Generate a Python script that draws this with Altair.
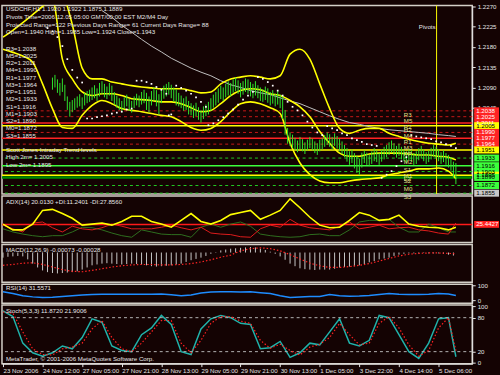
import json
import altair as alt
import pandas as pd

# ---------------- data ----------------
tick_bars = [0, 16, 32, 48, 64, 80, 96, 112, 128, 144, 160, 176]
tick_labels = ["23 Nov 2006", "24 Nov 12:00", "27 Nov 05:00", "27 Nov 21:00", "28 Nov 13:00",
               "29 Nov 05:00", "29 Nov 21:00", "30 Nov 13:00", "1 Dec 05:00", "3 Dec 22:00",
               "4 Dec 14:00", "5 Dec 06:00"]

# the first 20 bars lie above the top of the fixed price scale (hidden in the picture)
bar_high = [1.2318,1.2322,1.2325,1.2320,1.2316,1.2312,1.2308,1.2304,1.2300,1.2306,1.2302,1.2298,1.2300,1.2296,1.2294,1.2298,1.2295,1.2292,1.2294,1.2290,
            1.2112,1.2118,1.2108,1.2100,1.2110,1.2096,
            1.2070,1.2058,1.2062,
            1.2066,1.2070,1.2075,1.2068,1.2078,1.2082,
            1.2085,1.2090,1.2095,1.2088,1.2100,1.2104,1.2098,1.2092,1.2100,1.2094,1.2080,
            1.2072,1.2066,1.2060,1.2068,1.2074,1.2065,1.2060,1.2070,1.2076,1.2072,1.2080,
            1.2085,1.2078,1.2070,1.2082,1.2090,1.2084,1.2075,1.2088,1.2094,
            1.2098,1.2102,1.2096,1.2090,1.2086,
            1.2078,1.2072,1.2066,1.2070,1.2060,1.2055,1.2050,1.2056,1.2046,1.2040,1.2048,1.2052,
            1.2058,1.2066,1.2074,1.2080,1.2088,1.2094,1.2090,1.2098,
            1.2104,1.2100,1.2108,1.2112,1.2106,1.2100,1.2104,1.2110,1.2108,1.2102,1.2098,1.2104,
            1.2095,1.2090,1.2086,1.2092,1.2088,1.2080,1.2084,1.2076,1.2082,1.2074,
            1.2070,1.2040,1.2000,1.1990,
            1.1985,1.1978,1.1972,1.1980,1.1975,1.1968,1.1974,1.1980,1.1976,1.1970,1.1966,1.1974,1.1978,
            1.1984,1.1990,1.1986,1.1980,1.1988,1.1982,1.1976,1.1970,
            1.1962,1.1955,1.1948,1.1952,1.1944,1.1938,1.1932,1.1945,
            1.1950,1.1945,1.1940,1.1948,1.1955,1.1950,1.1944,1.1952,1.1958,1.1962,
            1.1968,1.1972,1.1966,1.1960,1.1965,1.1958,1.1952,
            1.1948,1.1954,1.1950,1.1944,1.1948,1.1955,1.1960,1.1952,1.1946,1.1950,1.1956,1.1962,1.1958,1.1952,1.1946,1.1950,1.1944,1.1940,
            1.1935,1.1925,1.1922]
bar_low = [1.2296,1.2300,1.2304,1.2298,1.2294,1.2290,1.2286,1.2284,1.2280,1.2286,1.2282,1.2278,1.2280,1.2278,1.2276,1.2280,1.2278,1.2276,1.2278,1.2275,
           1.2085,1.2090,1.2078,1.2072,1.2080,1.2060,
           1.2040,1.2025,1.2035,
           1.2040,1.2045,1.2048,1.2042,1.2050,1.2055,
           1.2058,1.2062,1.2066,1.2060,1.2070,1.2075,1.2068,1.2064,1.2072,1.2060,1.2052,
           1.2045,1.2040,1.2036,1.2042,1.2048,1.2038,1.2034,1.2044,1.2050,1.2046,1.2052,
           1.2055,1.2040,1.2035,1.2050,1.2060,1.2048,1.2030,1.2055,1.2065,
           1.2070,1.2074,1.2066,1.2058,1.2050,
           1.2048,1.2044,1.2038,1.2040,1.2030,1.2028,1.2022,1.2026,1.2018,1.2012,1.2020,1.2026,
           1.2030,1.2038,1.2045,1.2050,1.2056,1.2064,1.2060,1.2068,
           1.2072,1.2070,1.2078,1.2082,1.2076,1.2068,1.2074,1.2080,1.2076,1.2070,1.2066,1.2072,
           1.2066,1.2060,1.2058,1.2062,1.2056,1.2050,1.2054,1.2048,1.2052,1.2044,
           1.2020,1.1985,1.1965,1.1960,
           1.1955,1.1950,1.1946,1.1952,1.1948,1.1942,1.1950,1.1955,1.1950,1.1944,1.1940,1.1948,1.1952,
           1.1958,1.1962,1.1958,1.1952,1.1960,1.1954,1.1948,1.1942,
           1.1935,1.1925,1.1918,1.1922,1.1910,1.1900,1.1895,1.1912,
           1.1922,1.1918,1.1915,1.1920,1.1926,1.1924,1.1918,1.1925,1.1930,1.1935,
           1.1940,1.1945,1.1940,1.1934,1.1938,1.1930,1.1926,
           1.1922,1.1928,1.1925,1.1918,1.1920,1.1928,1.1932,1.1926,1.1920,1.1924,1.1930,1.1936,1.1932,1.1926,1.1920,1.1924,1.1918,1.1912,
           1.1905,1.1890,1.1875]

grid_bars = list(range(0, 181, 4)) + [183]
bb_upper = [1.2296,1.2300,1.2310,1.2315,1.2320,1.2318,1.2300,1.2230,1.2133,1.2109,
            1.2109,1.2102,1.2098,1.2094,1.2091,1.2089,1.2087,1.2087,1.2087,1.2083,
            1.2078,1.2080,1.2098,1.2109,1.2113,1.2116,1.2113,1.2109,1.2116,1.2164,
            1.2175,1.2153,1.2098,1.2043,1.1999,1.1988,1.1995,1.1999,1.1999,1.1988,
            1.1981,1.1975,1.1970,1.1966,1.1964,1.1962,1.1966]
bb_middle = [1.2202,1.2217,1.2234,1.2252,1.2270,1.2285,1.2153,1.2109,1.2080,1.2072,
             1.2076,1.2076,1.2072,1.2065,1.2063,1.2061,1.2058,1.2058,1.2054,1.2045,
             1.2036,1.2039,1.2054,1.2072,1.2083,1.2087,1.2085,1.2076,1.2072,1.2061,
             1.2047,1.2025,1.1992,1.1966,1.1944,1.1937,1.1937,1.1942,1.1944,1.1944,
             1.1944,1.1942,1.1940,1.1940,1.1937,1.1935,1.1929]
bb_lower = [1.2175,1.2168,1.2160,1.2146,1.2098,1.2043,1.2001,1.1999,1.2028,1.2050,
            1.2061,1.2054,1.2043,1.2039,1.2036,1.2032,1.2028,1.2025,1.2014,1.2001,
            1.1995,1.1999,1.2014,1.2036,1.2054,1.2058,1.2054,1.2045,1.2032,1.1966,
            1.1922,1.1896,1.1882,1.1878,1.1878,1.1882,1.1885,1.1887,1.1889,1.1896,
            1.1900,1.1904,1.1909,1.1909,1.1911,1.1904,1.1887]

ma_bars = list(range(40, 181, 4)) + [183]
ma_values = [1.2261,1.2246,1.2228,1.2213,1.2197,1.2182,1.2169,1.2155,1.2144,1.2133,
             1.2124,1.2116,1.2105,1.2096,1.2090,1.2083,1.2078,1.2074,1.2067,1.2060,
             1.2054,1.2045,1.2036,1.2027,1.2019,1.2012,1.2008,1.2003,1.1999,1.1996,
             1.1994,1.1992,1.1990,1.1988,1.1985,1.1983,1.1981]

sar_bars = (list(range(18, 33, 2)) + list(range(34, 53, 2)) + list(range(54, 67, 2)) + [67, 68]
            + list(range(70, 83, 2)) + list(range(83, 102, 2)) + list(range(103, 130, 2))
            + list(range(131, 152, 2)) + list(range(153, 164, 2)) + list(range(165, 184, 2)))
sar_values = [1.2222,1.2215,1.2202,1.2182,1.2153,1.2129,1.2112,1.2101,
              1.2021,1.2021,1.2024,1.2026,1.2028,1.2032,1.2034,1.2036,1.2041,1.2043,
              1.2105,1.2105,1.2102,1.2098,1.2091,1.2085,1.2076,
              1.2028,1.2030,
              1.2094,1.2089,1.2083,1.2076,1.2068,1.2058,1.2047,
              1.2006,1.2010,1.2017,1.2024,1.2032,1.2041,1.2052,1.2063,1.2072,1.2080,
              1.2113,1.2109,1.2102,1.2094,1.2083,1.2072,1.2058,1.2047,1.2039,1.2028,1.2014,1.2001,1.1990,1.1984,
              1.2004,1.1999,1.1995,1.1988,1.1984,1.1977,1.1973,1.1969,1.1964,1.1962,1.1960,
              1.1889,1.1896,1.1904,1.1915,1.1926,1.1935,
              1.1984,1.1981,1.1979,1.1977,1.1975,1.1970,1.1968,1.1964,1.1960,1.1955]

level_names = ["R3", "M5", "R2", "H2", "M4", "R1", "M3", "PP", "M2", "S1", "M1", "L2", "S2", "M0", "S3"]
level_prices = [1.2038, 1.2025, 1.2011, 1.2005, 1.1990, 1.1977, 1.1964, 1.1951, 1.1933, 1.1916,
                1.1903, 1.1895, 1.1890, 1.1872, 1.1855]
pivot_bar = 175.2

header_lines = ["USDCHF,H1  1.1920 1.1922 1.1875 1.1889",
                "Pivots Time=2006.12.05 05:00 GMT/00:00 EST M2/M4 Day",
                "Projected Range=122 Previous Days Range= 61 Current Days Range= 88",
                "Open=1.1940 High=1.1985 Low=1.1924 Close=1.1943"]
list_names = ["R3", "M5", "R2", "M4", "R1", "M3", "PP", "M2", "S1", "M1", "S2", "M0", "S3"]
trend_lines = ["Scott Jones Intraday Trend levels", "High 2m= 1.2005", "Low 2m= 1.1895"]

adx_main = [26,15,15,26,52,54,46,37,24,26, 28,24,31,41,41,31,26,20,33,46,
            31,26,33,44,48,52,35,43,52,74, 57,39,24,19,20,33,48,43,33,35,
            43,26,22,20,19,15,20]
adx_plus = [17,11,7,4,2,4,4,11,20,19, 15,9,4,1,15,11,7,6,6,1,
            20,26,20,26,30,22,7,4,2,1, 2,6,7,4,4,15,30,33,33,35,
            20,11,11,26,19,11,11]
adx_minus = [24,17,11,28,30,19,11,22,17,15, 19,26,22,17,17,17,20,24,19,15,
             20,9,7,6,2,1,17,24,20,35, 24,19,17,15,22,30,17,20,24,17,
             19,20,15,13,9,7,28]
adx_level = 25.4427

hist_bars = list(range(0, 183, 2))
macd_hist = [-12,-10,-9,-8,-9,-16,-26,-35,-42,-46,-48,-49,-48,-47,-46,-44,-40,-35,-30,-28,
             -26,-25,-26,-27,-28,-27,-26,-27,-28,-30,-32,-33,-32,-31,-30,-28,-26,-22,-18,-15,
             -12,-8,-3,1,5,7,9,10,11,12,13,12,9,6,2,-3,-9,-17,-26,-32,
             -37,-39,-40,-41,-40,-40,-40,-38,-35,-34,-33,-32,-30,-27,-23,-20,-16,-14,-12,-8,
             -5,-3,-2,-2,-2,-1,-2,-2,-2,-3,-5,-7]
macd_signal = [-30,-28,-25,-24,-28,-34,-40,-44,-45,-42, -38,-34,-31,-29,-28,-28,-29,-29,-28,-26,
               -22,-17,-11,-6,4,9,11,9,4,-5, -15,-25,-31,-35,-35,-33,-30,-26,-20,-14,
               -8,-4,-2,-1,-1,-2,-3]

rsi_values = [56,45,30,22,18,20,25,30,35,38, 40,40,39,40,40,40,41,36,30,35,
              48,55,57,56,55,56,50,44,30,18, 22,24,25,38,30,27,28,32,38,45,
              40,38,38,40,44,42,31]

stoch_main = [92,82,35,18,12,18,30,25,45,78, 72,30,22,20,50,62,84,68,20,15,
              60,78,84,80,70,68,25,27,38,10, 18,35,32,55,78,35,30,40,84,80,
              50,20,8,35,78,80,11]
stoch_signal = [90,88,55,25,15,14,25,28,35,60, 75,45,25,20,35,55,75,75,35,18,
                40,70,82,82,74,70,40,26,33,22, 14,28,33,45,70,50,32,35,70,82,
                62,32,12,22,62,80,22]

# ---------------- styles ----------------
BG = "#140303"
FG = "#e6e6e6"
FONT = "Liberation Sans"
FS = 6.2
W = 474
XD = [-0.4, 189.6]
RED, YEL, GRN = "#ff2424", "#ffff00", "#3cff3c"
level_line_colors = ["#c81818", "#c81818", RED, YEL, "#c81818", RED, "#c81818", YEL,
                     "#22c822", GRN, "#22c822", YEL, "#008a00", "#22c822", "#22c822"]
level_dashed = [True, True, False, False, True, False, True, False, True, False, True, False, False, True, True]
level_widths = [1, 1, 1.5, 1.5, 1, 1.5, 1, 1.5, 1, 1.5, 1, 1.5, 2.5, 1, 1]
box_colors = [RED, RED, RED, YEL, RED, RED, RED, YEL, GRN, GRN, GRN, YEL, GRN, GRN, "#c8c8c8"]
box_text = ["#ffffff"] * 3 + ["#000000"] + ["#ffffff"] * 3 + ["#000000"] * 8


def xs():
    return alt.X("bar:Q", scale=alt.Scale(domain=XD, nice=False, zero=False), axis=None)


def right_axis(values, fmt=None):
    kw = dict(orient="right", values=values, title=None, grid=False, labelColor=FG, tickColor=FG,
              domainColor=FG, labelFont=FONT, labelFontSize=FS, tickSize=3, labelPadding=2)
    if fmt:
        kw["format"] = fmt
    return alt.Axis(**kw)


def note(text, x, y, color=FG, align="left"):
    return alt.Chart(pd.DataFrame({"t": [text]})).mark_text(
        font=FONT, fontSize=FS, color=color, align=align, baseline="middle").encode(
        text="t:N", x=alt.value(x), y=alt.value(y))


# ---------------- main price panel ----------------
MAIN_H = 190
PY = alt.Scale(domain=[1.18531, 1.22722], nice=False, zero=False)

lv = pd.DataFrame({"name": level_names, "price": level_prices, "lc": level_line_colors,
                   "dashed": level_dashed, "lw": level_widths, "bc": box_colors, "tc": box_text})
lv["blo"] = lv["price"] - 0.00078
lv["bhi"] = lv["price"] + 0.00078
lv["label"] = lv["price"].map(lambda v: f"{v:.4f}")

axis_main = right_axis([1.2045, 1.2090, 1.2135, 1.2180, 1.2225, 1.2270], fmt=".4f")

solid_lv = alt.Chart(lv).transform_filter("!datum.dashed").mark_rule().encode(
    y=alt.Y("price:Q", scale=PY, axis=axis_main),
    color=alt.Color("lc:N", scale=None), strokeWidth=alt.StrokeWidth("lw:Q", scale=None))
dash_lv = alt.Chart(lv).transform_filter("datum.dashed").mark_rule(strokeDash=[3, 3]).encode(
    y=alt.Y("price:Q", scale=PY, axis=None),
    color=alt.Color("lc:N", scale=None), strokeWidth=alt.StrokeWidth("lw:Q", scale=None))

pivot_line = alt.Chart(pd.DataFrame({"bar": [pivot_bar]})).mark_rule(color=YEL, strokeWidth=1).encode(x=xs())

ma_df = pd.DataFrame({"bar": ma_bars, "price": ma_values})
ma_line = alt.Chart(ma_df).mark_line(color="#c0c0c0", strokeWidth=1, clip=True).encode(
    x=xs(), y=alt.Y("price:Q", scale=PY, axis=None))

bb_df = pd.concat([
    pd.DataFrame({"bar": grid_bars, "price": bb_upper, "band": "upper"}),
    pd.DataFrame({"bar": grid_bars, "price": bb_middle, "band": "middle"}),
    pd.DataFrame({"bar": grid_bars, "price": bb_lower, "band": "lower"})])
bb_lines = alt.Chart(bb_df).mark_line(color=YEL, strokeWidth=1.6, clip=True, interpolate="monotone").encode(
    x=xs(), y=alt.Y("price:Q", scale=PY, axis=None), detail="band:N")

bars_df = pd.DataFrame({"bar": list(range(len(bar_high))), "hi": bar_high, "lo": bar_low})
price_bars = alt.Chart(bars_df).mark_rule(color="#2ee62e", strokeWidth=1, clip=True).encode(
    x=xs(), y=alt.Y("lo:Q", scale=PY, axis=None), y2="hi:Q")

sar_df = pd.DataFrame({"bar": sar_bars, "price": sar_values})
sar_pts = alt.Chart(sar_df).mark_square(color="#ffffff", size=3, opacity=1).encode(
    x=xs(), y=alt.Y("price:Q", scale=PY, axis=None))

piv_labels = alt.Chart(lv).mark_text(font=FONT, fontSize=FS, color="#e0e08c", align="left",
                                     baseline="top", dy=1).encode(
    x=alt.value(405), y=alt.Y("price:Q", scale=PY, axis=None), text="name:N")

pivots_txt = alt.Chart(pd.DataFrame({"bar": [pivot_bar], "price": [1.2225], "t": ["Pivots"]})).mark_text(
    font=FONT, fontSize=FS, color=FG, align="right", dx=-1).encode(
    x=xs(), y=alt.Y("price:Q", scale=PY, axis=None), text="t:N")

boxes = alt.Chart(lv).mark_rect().encode(
    x=alt.value(W + 2), x2=alt.value(W + 27),
    y=alt.Y("blo:Q", scale=PY, axis=None), y2="bhi:Q", color=alt.Color("bc:N", scale=None))
box_txt = alt.Chart(lv).mark_text(font=FONT, fontSize=FS, align="left", baseline="middle").encode(
    x=alt.value(W + 4), y=alt.Y("price:Q", scale=PY, axis=None), text="label:N",
    color=alt.Color("tc:N", scale=None))

head_df = pd.DataFrame({"k": list(range(len(header_lines))), "t": header_lines})
head_txt = alt.Chart(head_df).mark_text(font=FONT, fontSize=FS, color=FG, align="left", baseline="middle").encode(
    x=alt.value(4), y=alt.Y("k:Q", scale=alt.Scale(domain=[0, 3], range=[4, 27]), axis=None), text="t:N")

list_map = dict(zip(level_names, level_prices))
plist = [f"{n}={list_map[n]:.4f}" for n in list_names] + [""] + trend_lines
plist_df = pd.DataFrame({"k": list(range(len(plist))), "t": plist})
list_txt = alt.Chart(plist_df).mark_text(font=FONT, fontSize=FS, color=FG, align="left", baseline="middle").encode(
    x=alt.value(4), y=alt.Y("k:Q", scale=alt.Scale(domain=[0, 16], range=[43.5, 160.3]), axis=None), text="t:N")

main = alt.layer(solid_lv, dash_lv, pivot_line, ma_line, bb_lines, price_bars, sar_pts,
                 piv_labels, pivots_txt, boxes, box_txt, head_txt, list_txt).resolve_scale(
    y="independent").properties(width=W, height=MAIN_H)

# ---------------- ADX panel ----------------
AY = alt.Scale(domain=[-9.2, 79.4], nice=False, zero=False)
adx_df = pd.DataFrame({"bar": grid_bars, "adx": adx_main, "pdi": adx_plus, "mdi": adx_minus})
adx_axis_layer = alt.Chart(pd.DataFrame({"v": [adx_level]})).mark_rule(color="#ff1a1a", strokeWidth=1.5).encode(
    y=alt.Y("v:Q", scale=AY, axis=right_axis([0, 72])))
adx_p = alt.Chart(adx_df).mark_line(color="#2f6f1f", strokeWidth=1, clip=True).encode(
    x=xs(), y=alt.Y("pdi:Q", scale=AY, axis=None))
adx_m = alt.Chart(adx_df).mark_line(color="#e01c1c", strokeWidth=1, clip=True).encode(
    x=xs(), y=alt.Y("mdi:Q", scale=AY, axis=None))
adx_l = alt.Chart(adx_df).mark_line(color=YEL, strokeWidth=1.6, clip=True).encode(
    x=xs(), y=alt.Y("adx:Q", scale=AY, axis=None))
adx_box_df = pd.DataFrame({"v": [adx_level], "lo": [adx_level - 6.5], "hi": [adx_level + 6.5],
                           "t": [f"{adx_level:.4f}"]})
adx_box = alt.Chart(adx_box_df).mark_rect(color="#ff2020").encode(
    x=alt.value(W + 2), x2=alt.value(W + 27), y=alt.Y("lo:Q", scale=AY, axis=None), y2="hi:Q")
adx_box_t = alt.Chart(adx_box_df).mark_text(font=FONT, fontSize=FS, color="#ffffff", align="left").encode(
    x=alt.value(W + 4), y=alt.Y("v:Q", scale=AY, axis=None), text="t:N")
adx = alt.layer(adx_axis_layer, adx_p, adx_m, adx_l, adx_box, adx_box_t,
                note("ADX(14) 20.0130 +DI:11.2401 -DI:27.8560", 4, 6)).properties(width=W, height=47)

# ---------------- MACD panel ----------------
MY = alt.Scale(domain=[-0.00698, 0.00186], nice=False, zero=False)
hist_df = pd.DataFrame({"bar": hist_bars, "v": [h / 10000 for h in macd_hist]})
sig_df = pd.DataFrame({"bar": grid_bars, "v": [s / 10000 for s in macd_signal]})
macd_h = alt.Chart(hist_df).mark_rule(color="#c8c8c8", strokeWidth=1).encode(
    x=xs(), y=alt.Y("v:Q", scale=MY, axis=right_axis([-0.00483, 0.00115], fmt=".5f")), y2=alt.datum(0))
macd_s = alt.Chart(sig_df).mark_line(color="#ff2424", strokeWidth=1.2, strokeDash=[1.5, 2], clip=True).encode(
    x=xs(), y=alt.Y("v:Q", scale=MY, axis=None))
macd = alt.layer(macd_h, macd_s, note("MACD(12,26,9) -0.00073 -0.00028", 4, 5)).properties(width=W, height=38)

# ---------------- RSI panel ----------------
RY = alt.Scale(domain=[-20, 106.7], nice=False, zero=False)
rsi_df = pd.DataFrame({"bar": grid_bars, "v": rsi_values})
rsi_l = alt.Chart(rsi_df).mark_line(color="#1e8cff", strokeWidth=1.5, clip=True).encode(
    x=xs(), y=alt.Y("v:Q", scale=RY, axis=right_axis([0, 100])))
rsi = alt.layer(rsi_l, note("RSI(14) 31.5571", 4, 4)).properties(width=W, height=19)

# ---------------- Stochastic panel ----------------
SY = alt.Scale(domain=[-1.2, 102.2], nice=False, zero=False)
st_df = pd.DataFrame({"bar": grid_bars, "main": stoch_main, "sig": stoch_signal})
label_expr = "[" + ",".join(json.dumps(t) for t in tick_labels) + "][round(datum.value / 16)]"
x_axis = alt.Axis(values=tick_bars, labelExpr=label_expr, labelAlign="left", labelAngle=0, labelColor=FG,
                  tickColor=FG, domainColor=FG, labelFont=FONT, labelFontSize=FS, tickSize=3,
                  labelPadding=1, title=None, grid=False, labelOverlap=False, orient="bottom")
XB = alt.X("bar:Q", scale=alt.Scale(domain=XD, nice=False, zero=False), axis=x_axis)
st_m = alt.Chart(st_df).mark_line(color="#20b2aa", strokeWidth=1.5, clip=True).encode(
    x=XB, y=alt.Y("main:Q", scale=SY, axis=right_axis([0, 20, 80, 100])))
st_s = alt.Chart(st_df).mark_line(color="#ff2020", strokeWidth=1.2, strokeDash=[1.5, 2], clip=True).encode(
    x=XB, y=alt.Y("sig:Q", scale=SY, axis=right_axis([0, 20, 80, 100])))
st_lv = alt.Chart(pd.DataFrame({"v": [20, 80]})).mark_rule(color="#b4b4b4", strokeDash=[3, 3]).encode(
    y=alt.Y("v:Q", scale=SY, axis=right_axis([0, 20, 80, 100])))
stoch = alt.layer(st_m, st_lv, st_s,
                  note("Stoch(5,3,3) 11.8720 21.9006", 4, 6),
                  note("MetaTrader, \u00a9 2001-2006 MetaQuotes Software Corp.", 4, 54)).properties(width=W, height=59)

chart = alt.vconcat(main, adx, macd, rsi, stoch, spacing=2, bounds="flush").configure(
    background=BG, padding={"left": 0, "top": 1, "right": 0, "bottom": 13}
).configure_view(stroke="#d4d0c8", strokeWidth=1.5)

chart.save("out.html", embed_options={"renderer": "svg", "actions": False})
